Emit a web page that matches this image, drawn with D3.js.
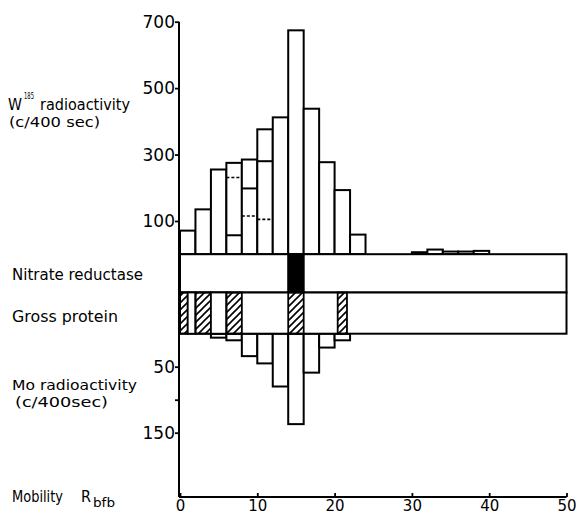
<!DOCTYPE html>
<html>
<head>
<meta charset="utf-8">
<script src="https://cdn.jsdelivr.net/npm/d3@7/dist/d3.min.js"></script>
<style>
  html, body { margin: 0; padding: 0; background: #fff; }
  text { font-family: "DejaVu Sans", sans-serif; fill: #000; }
</style>
</head>
<body>
<svg id="chart" width="583" height="516"></svg>
<script>
// ---------- data ----------
// W185 radioactivity histogram (bin start in Rbfb units, bins 2 units wide)
const wBins   = [0, 2, 4, 6, 8, 10, 12, 14, 16, 18, 20, 22, 30, 32, 34, 36, 38];
const wValues = [71, 135, 255, 275, 285, 376, 412, 674, 438, 277, 193, 59, 6, 14, 8, 8, 10];
// internal lines inside some W bars
const innerBins   = [6, 8, 10];
const innerSolid  = [57, 198, 280];
const innerDashed = [231, 115, 105];
// Mo radioactivity histogram (drawn downward)
const moBins   = [4, 6, 8, 10, 12, 14, 16, 18, 20];
const moValues = [6, 10, 34, 45, 80, 137, 59, 21, 10];
// Nitrate reductase active zone
const nitrateStart = [14];
const nitrateEnd   = [16];
// Gross protein cells
const protStart  = [0, 1, 2, 4, 6, 14, 20.4];
const protEnd    = [1, 2, 4, 6, 8, 16, 21.6];
const protHatch  = [true, false, true, false, true, true, true];
// axis ticks
const wTicks  = [100, 300, 500, 700];
const moTicks = [50, 100, 150];
const moTickLabels = ["50", "", "150"];
const xTicks  = [0, 10, 20, 30, 40, 50];
const binWidth = 2;

// ---------- scales ----------
const svg = d3.select("#chart");
const x   = d3.scaleLinear().domain([0, 50]).range([180, 566.5]);
const yW  = d3.scaleLinear().domain([0, 700]).range([254.2, 21.7]);
const yMo = d3.scaleLinear().domain([0, 150]).range([333.7, 432.7]);
const nitrateBottom = 292.5;
const axisX = 179, axisBottomY = 497;

// hatch pattern
const defs = svg.append("defs");
defs.append("pattern")
  .attr("id", "hatch").attr("patternUnits", "userSpaceOnUse")
  .attr("width", 7).attr("height", 7)
  .append("path")
  .attr("d", "M-1,1 l2,-2 M0,7 l7,-7 M6,8 l2,-2")
  .attr("stroke", "#000").attr("stroke-width", 1.6);

const g = svg.append("g");
const SW = 2;

// ---------- W bars ----------
g.selectAll("rect.w").data(wBins).join("rect")
  .attr("class", "w")
  .attr("x", (d) => x(d))
  .attr("width", (d) => x(d + binWidth) - x(d))
  .attr("y", (d, i) => yW(wValues[i]))
  .attr("height", (d, i) => yW(0) - yW(wValues[i]))
  .attr("fill", "#fff").attr("stroke", "#000").attr("stroke-width", SW);

g.selectAll("line.ws").data(innerBins).join("line")
  .attr("x1", (d) => x(d)).attr("x2", (d) => x(d + binWidth))
  .attr("y1", (d, i) => yW(innerSolid[i])).attr("y2", (d, i) => yW(innerSolid[i]))
  .attr("stroke", "#000").attr("stroke-width", SW);
g.selectAll("line.wd").data(innerBins).join("line")
  .attr("x1", (d) => x(d)).attr("x2", (d) => x(d + binWidth))
  .attr("y1", (d, i) => yW(innerDashed[i])).attr("y2", (d, i) => yW(innerDashed[i]))
  .attr("stroke", "#000").attr("stroke-width", 1.6).attr("stroke-dasharray", "3,2");

// ---------- Mo bars ----------
g.selectAll("rect.mo").data(moBins).join("rect")
  .attr("x", (d) => x(d))
  .attr("width", (d) => x(d + binWidth) - x(d))
  .attr("y", yMo(0))
  .attr("height", (d, i) => yMo(moValues[i]) - yMo(0))
  .attr("fill", "#fff").attr("stroke", "#000").attr("stroke-width", SW);

// ---------- Nitrate reductase row ----------
g.append("rect")
  .attr("x", x(0)).attr("width", x(50) - x(0))
  .attr("y", yW(0)).attr("height", nitrateBottom - yW(0))
  .attr("fill", "#fff").attr("stroke", "#000").attr("stroke-width", SW);
g.selectAll("rect.nr").data(nitrateStart).join("rect")
  .attr("x", (d) => x(d)).attr("width", (d, i) => x(nitrateEnd[i]) - x(d))
  .attr("y", yW(0)).attr("height", nitrateBottom - yW(0))
  .attr("fill", "#000").attr("stroke", "#000").attr("stroke-width", SW);

// ---------- Gross protein row ----------
g.append("rect")
  .attr("x", x(0)).attr("width", x(50) - x(0))
  .attr("y", nitrateBottom).attr("height", yMo(0) - nitrateBottom)
  .attr("fill", "#fff").attr("stroke", "#000").attr("stroke-width", SW);
g.selectAll("rect.gp").data(protStart).join("rect")
  .attr("x", (d) => x(d)).attr("width", (d, i) => x(protEnd[i]) - x(d))
  .attr("y", nitrateBottom).attr("height", yMo(0) - nitrateBottom)
  .attr("fill", (d, i) => protHatch[i] ? "url(#hatch)" : "#fff")
  .attr("stroke", "#000").attr("stroke-width", 1.8);

// ---------- axes ----------
g.append("line")
  .attr("x1", axisX).attr("x2", axisX)
  .attr("y1", yW(700)).attr("y2", axisBottomY)
  .attr("stroke", "#000").attr("stroke-width", SW);

const aW = g.append("g").attr("transform", `translate(${axisX},0)`)
  .call(d3.axisLeft(yW).tickValues(wTicks).tickSize(4).tickPadding(0).tickFormat(d3.format("d")));
const aMo = g.append("g").attr("transform", `translate(${axisX},0)`)
  .call(d3.axisLeft(yMo).tickValues(moTicks).tickSize(4).tickPadding(0).tickFormat((d, i) => moTickLabels[i]));
const aX = g.append("g").attr("transform", `translate(0,${axisBottomY})`)
  .call(d3.axisBottom(x).tickValues(xTicks).tickSize(-4).tickPadding(3).tickFormat(d3.format("d")));

[aW, aMo].forEach((a) => {
  a.select(".domain").remove();
  a.selectAll(".tick line").attr("stroke", "#000").attr("stroke-width", 1.8);
  a.selectAll("text").attr("font-family", "DejaVu Sans, sans-serif").attr("font-size", 17).attr("fill", "#000");
});
aX.select(".domain").remove();
aX.selectAll(".tick line").attr("stroke", "#000").attr("stroke-width", 1.8);
aX.selectAll("text").attr("font-family", "DejaVu Sans, sans-serif").attr("font-size", 15).attr("fill", "#000");
aX.append("line").attr("x1", axisX).attr("x2", x(50)).attr("stroke", "#000").attr("stroke-width", SW);

// ---------- labels ----------
function label(txt, xx, yy, size, len) {
  const t = svg.append("text").attr("x", xx).attr("y", yy).attr("font-size", size).text(txt);
  if (len) t.attr("textLength", len).attr("lengthAdjust", "spacingAndGlyphs");
  return t;
}
label("W", 8, 110, 15, 14);
label("185", 24, 99, 8, 10);
label("radioactivity", 40, 110, 15, 90);
label("(c/400 sec)", 9, 127, 14, 91);

label("Nitrate reductase", 12, 280, 16, 131);
label("Gross protein", 12, 322, 16, 106);

label("Mo  radioactivity", 12, 390, 14, 125);
label("(c/400sec)", 15, 407, 14, 93);

label("Mobility", 12, 502, 15, 51);
label("R", 81, 502, 15, 10);
label("bfb", 93, 507, 12, 22);
</script>
</body>
</html>
